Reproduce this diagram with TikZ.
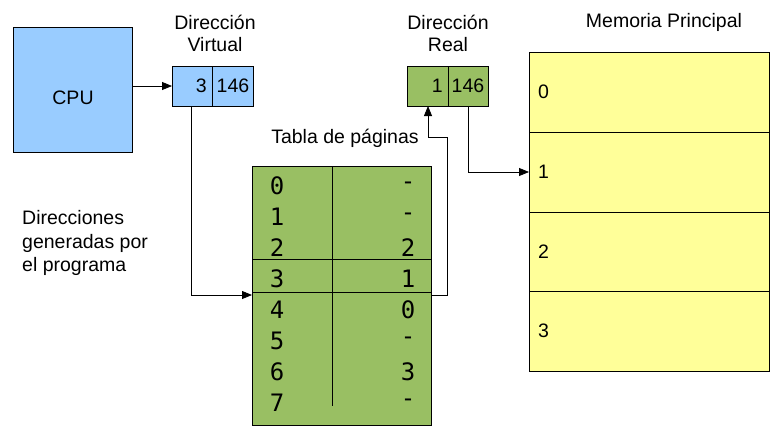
\documentclass[tikz,border=0pt]{standalone}
\usepackage{fontspec}
\setmainfont{Liberation Sans}
\newfontfamily\monofam{DejaVu Sans Mono}
\usetikzlibrary{arrows.meta}
\definecolor{cblue}{HTML}{99CCFF}
\definecolor{cgreen}{HTML}{99BF63}
\definecolor{cyellow}{HTML}{FFFF99}
\tikzset{
  box/.style={draw=black, line width=1pt},
  conn/.style={draw=black, line width=0.8pt},
  arr/.style={conn, -{Triangle[length=10pt,width=8pt]}},
  lbl/.style={font=\fontsize{19.5}{23.5}\selectfont, inner sep=0pt},
  mono/.style={font=\monofam\fontsize{24}{26}\selectfont, inner sep=0pt},
}
\begin{document}
\begin{tikzpicture}[x=1pt,y=-1pt]
\useasboundingbox (0,0) rectangle (784,440);
% CPU
\node[box, fill=cblue, minimum width=119pt, minimum height=125pt, anchor=north west, inner sep=0pt] (cpu) at (13,27) {};
\node[lbl] (cputxt) at (73,98) {CPU};
% virtual address
\node[box, fill=cblue, minimum width=40pt, minimum height=40pt, anchor=north west, inner sep=0pt] (vp) at (172,66) {};
\node[box, fill=cblue, minimum width=41pt, minimum height=40pt, anchor=north west, inner sep=0pt] (vo) at (212,66) {};
\node[lbl, anchor=east] (vpt) at (207,86) {3};
\node[lbl] (vot) at (233,86) {146};
\node[lbl] (dv1) at (215,22) {Dirección};
\node[lbl] (dv2) at (215,45) {Virtual};
% real address
\node[box, fill=cgreen, minimum width=41pt, minimum height=40pt, anchor=north west, inner sep=0pt] (rp) at (407,66) {};
\node[box, fill=cgreen, minimum width=40pt, minimum height=40pt, anchor=north west, inner sep=0pt] (ro) at (448,66) {};
\node[lbl, anchor=east] (rpt) at (443,86) {1};
\node[lbl] (rot) at (468,86) {146};
\node[lbl] (dr1) at (448,22) {Dirección};
\node[lbl] (dr2) at (448,45) {Real};
% memory
\node[lbl] (memt) at (664,22) {Memoria Principal};
\foreach \i/\y in {0/52,1/132,2/212,3/291}{
  \node[box, fill=cyellow, minimum width=240pt, minimum height=80pt, anchor=north west, inner sep=0pt] (m\i) at (529,\y) {};
  \node[lbl, anchor=west] (m\i t) at (538,\y+40) {\i};
}
% page table
\node[lbl] (tabt) at (345,138) {Tabla de páginas};
\node[box, fill=cgreen, minimum width=179pt, minimum height=259pt, anchor=north west, inner sep=0pt] (tab) at (252,166) {};
\draw[conn] (332,166) -- (332,406);
\draw[conn] (252,259) -- (431,259);
\draw[conn] (252,292) -- (431,292);
\foreach \i/\v in {0/-,1/-,2/2,3/1,4/0,5/-,6/3,7/-}{
  \node[mono] (l\i) at (277,186+30.9*\i) {\i};
  \node[mono] (r\i) at (408,186+30.9*\i) {\v};
}
% text
\node[lbl, anchor=west, align=left] (dir) at (22,243) {Direcciones\\generadas por\\el programa};
% connectors
\draw[arr] (cpu.east |- 0,86) -- (vp.west |- 0,86);
\coordinate (t1) at (252,295);
\draw[arr] (191,106) -- (191,295) -- (t1);
\coordinate (t2) at (431,295);
\draw[arr] (t2) -- (447,295) -- (447,137) -- (428,137) -- (428,106);
\coordinate (m1in) at (529,172);
\draw[arr] (468,106) -- (468,172) -- (m1in);
\end{tikzpicture}
\end{document}
